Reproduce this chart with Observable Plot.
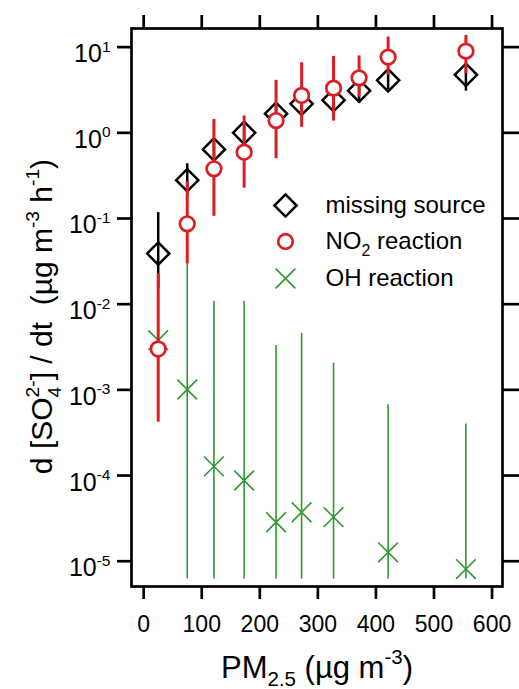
<!DOCTYPE html>
<html><head><meta charset="utf-8">
<script src="https://cdn.jsdelivr.net/npm/d3@7"></script>
<script src="https://cdn.jsdelivr.net/npm/@observablehq/plot@0.6"></script>
<style>html,body{margin:0;padding:0;background:#fff}svg{display:block}</style>
</head><body><div id="chart"></div>
<script>
// ---- data ----
const pm        = [25, 75, 121, 173, 228, 272, 327, 371, 421, 555];
const missing   = [0.039, 0.28, 0.64, 1.0, 1.67, 2.18, 2.4, 3.1, 4.1, 4.75];
const missingLo = [0.015, 0.18, 0.52, 0.8, 1.35, 1.8, 1.9, 2.2, 3.2, 3.06];
const missingHi = [0.117, 0.435, 0.78, 1.25, 2.05, 2.6, 3.0, 4.0, 5.0, 6.0];
const no2       = [0.003, 0.0867, 0.38, 0.594, 1.39, 2.73, 3.32, 4.38, 7.65, 8.98];
const no2Lo     = [0.00042, 0.0296, 0.106, 0.226, 0.498, 1.16, 1.37, 2.6, 4.67, 4.9];
const no2Hi     = [0.0227, 0.27, 1.43, 1.57, 4.1, 6.57, 7.8, 7.9, 13.1, 13.7];
const ohPm      = [25, 75, 121, 173, 228, 272, 327, 421, 555];
const oh        = [0.0038, 0.00101, 1.28e-4, 8.75e-5, 2.85e-5, 3.73e-5, 3.27e-5, 1.27e-5, 8.1e-6];
const ohLo      = [null, 6.2e-6, 6.2e-6, 6.2e-6, 6.2e-6, 6.2e-6, 6.2e-6, 6.2e-6, 6.2e-6];
const ohHi      = [null, 0.03, 0.0108, 0.0108, 0.0033, 0.00458, 0.00205, 6.7e-4, 4.0e-4];
const xTicks    = [0, 100, 200, 300, 400, 500, 600];
const yTicks    = [1e-5, 1e-4, 1e-3, 1e-2, 1e-1, 1, 10];
const legendLabels = ["missing source", "NO_{2} reaction", "OH reaction"];
const xTitle = "PM_{2.5} (µg m^{-3})";
const yTitle = "d [SO_{4}^{2-}] / dt  (µg m^{-3} h^{-1})";

const RED = "#dc1e22", GREEN = "#2f972f", FONT = "'Liberation Sans', Arial, sans-serif";

const rows = pm.map((x, i) => ({x, ms: missing[i], msLo: missingLo[i], msHi: missingHi[i],
  no2: no2[i], no2Lo: no2Lo[i], no2Hi: no2Hi[i]}));
const ohRows = ohPm.map((x, i) => ({x, v: oh[i], lo: ohLo[i], hi: ohHi[i]}));

const AX = 2.7;
const DR = 10, CR = 7.3, XR = 9;
const plot = Plot.plot({
  width: 519, height: 689,
  marginLeft: 131, marginRight: 17, marginTop: 28, marginBottom: 103,
  style: {fontFamily: FONT, background: "white", color: "black", overflow: "visible"},
  x: {domain: [-21, 618]},
  y: {type: "log", domain: [5.07e-6, 16.5]},
  marks: [
    Plot.ruleX(ohRows.filter(d => d.hi != null), {x: "x", y1: "lo", y2: "hi", stroke: GREEN, strokeWidth: 1.6}),
    Plot.dot(ohRows, {x: "x", y: "v", symbol: "times", r: XR, stroke: GREEN, strokeWidth: 1.6}),
    Plot.ruleX(rows, {x: "x", y1: "msLo", y2: "msHi", stroke: "black", strokeWidth: 2.5}),
    Plot.dot(rows, {x: "x", y: "ms", symbol: "diamond2", r: DR, stroke: "black", strokeWidth: 2.5, fill: "none"}),
    Plot.ruleX(rows, {x: "x", y1: "no2Lo", y2: "no2Hi", stroke: RED, strokeWidth: 3}),
    Plot.dot(rows, {x: "x", y: "no2", r: CR, stroke: RED, strokeWidth: 2.7, fill: "white"}),
    Plot.frame({stroke: "black", strokeWidth: AX}),
    Plot.axisX({anchor: "bottom", ticks: xTicks, tickSize: 13, tickPadding: 16, strokeWidth: AX, fontSize: 23, label: null, tickFormat: d => String(d)}),
    Plot.axisX({anchor: "top", ticks: xTicks, tickSize: 14, strokeWidth: AX, label: null, tickFormat: () => ""}),
    Plot.axisY({anchor: "left", ticks: yTicks, tickSize: 14, tickPadding: 7, strokeWidth: AX, fontSize: 25, label: null,
      tickFormat: d => "10^{" + Math.round(Math.log10(d)) + "}"}),
    Plot.axisY({anchor: "right", ticks: yTicks, tickSize: 16, strokeWidth: AX, label: null, tickFormat: () => ""}),
    // legend
    Plot.dot([legendLabels[0]], {frameAnchor: "top-left", dx: 154, dy: 177, symbol: "diamond2", r: DR, stroke: "black", strokeWidth: 2.5, fill: "none"}),
    Plot.dot([legendLabels[1]], {frameAnchor: "top-left", dx: 154, dy: 213, r: CR, stroke: RED, strokeWidth: 2.7, fill: "white"}),
    Plot.dot([legendLabels[2]], {frameAnchor: "top-left", dx: 154, dy: 250, symbol: "times", r: XR, stroke: GREEN, strokeWidth: 1.6}),
    ...legendLabels.map((lab, i) => Plot.text([lab], {text: d => d, frameAnchor: "top-left", dx: 194, dy: [177, 213, 250][i],
      textAnchor: "start", lineAnchor: "middle", fontSize: 24, className: "rich-legend"})),
    // titles
    Plot.text([xTitle], {text: d => d, frameAnchor: "bottom", dy: 82, textAnchor: "middle", lineAnchor: "middle", fontSize: 31, className: "rich-xtitle"}),
    Plot.text([yTitle], {text: d => d, frameAnchor: "left", dx: -89, dy: 9, rotate: -90, textAnchor: "middle", lineAnchor: "middle", fontSize: 30, className: "rich-ytitle"})
  ]
});
document.getElementById("chart").appendChild(plot);

// rich text: _{sub}, ^{sup}, _{sub}^{sup} stacked
const NS = "http://www.w3.org/2000/svg";
function rich(el, F, o) {
  const s = el.textContent;
  if (!/[_^]\{/.test(s)) return;
  const parts = s.split(/(_\{[^}]*\}\^\{[^}]*\}|_\{[^}]*\}|\^\{[^}]*\})/).filter(p => p !== "");
  while (el.firstChild) el.removeChild(el.firstChild);
  el.style.whiteSpace = "pre";
  let cur = 0, first = true;
  const sF = o.sF * F, subS = o.sub * F, supS = o.sup * F, base = o.base || 0;
  const add = (str, size, shift, dx) => {
    const t = document.createElementNS(NS, "tspan");
    t.textContent = str;
    const d = shift - cur + (first ? base : 0);
    first = false;
    if (d) t.setAttribute("dy", d);
    if (dx) t.setAttribute("dx", dx);
    if (size) t.setAttribute("font-size", size);
    cur = shift;
    el.appendChild(t);
    return t;
  };
  for (const p of parts) {
    let m;
    if ((m = p.match(/^_\{([^}]*)\}\^\{([^}]*)\}$/))) {
      const t = add(m[1], sF, subS);
      add(m[2], sF, supS, -t.getComputedTextLength());
    } else if ((m = p.match(/^_\{([^}]*)\}$/))) add(m[1], sF, subS);
    else if ((m = p.match(/^\^\{([^}]*)\}$/))) add(m[1], sF, supS);
    else add(p, null, 0);
  }
}
const svg = d3.select(plot);
svg.selectAll('g[aria-label="y-axis tick label"] text').each(function() { rich(this, 25, {sF: 0.62, sub: 0.3, sup: -0.42, base: 7}); });
svg.selectAll('.rich-legend text, text.rich-legend').each(function() { rich(this, 24, {sF: 0.66, sub: 0.3, sup: -0.45}); });
svg.selectAll('.rich-xtitle text, text.rich-xtitle').each(function() { rich(this, 31, {sF: 0.66, sub: 0.25, sup: -0.45}); });
svg.selectAll('.rich-ytitle text, text.rich-ytitle').each(function() { rich(this, 30, {sF: 0.64, sub: 0.28, sup: -0.45}); });
svg.selectAll('text').each(function() { if (/[_^]\{/.test(this.textContent)) rich(this, +getComputedStyle(this).fontSize.replace("px", "") || 24, {sF: 0.66, sub: 0.3, sup: -0.45}); });
</script>
</body></html>
